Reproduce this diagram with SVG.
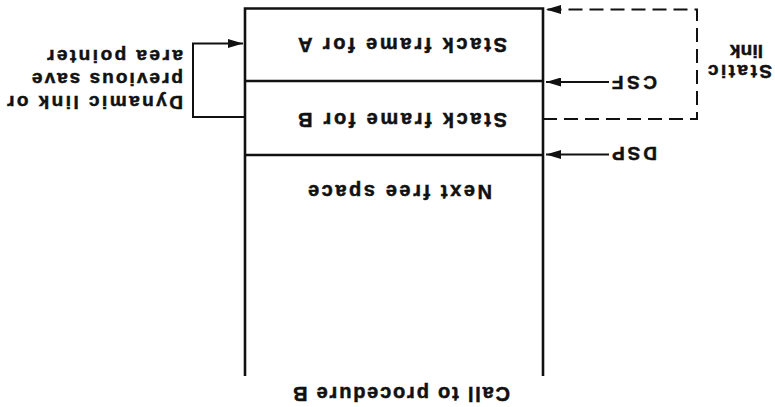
<svg xmlns="http://www.w3.org/2000/svg" width="775" height="407" viewBox="0 0 775 407">
  <style>
    .t { font-family: "Liberation Sans", Arial, sans-serif; font-weight: bold; font-size: 20px; fill: #111; stroke: #111; stroke-width: 0.5; }
    .s { font-size: 19px; }
    .box { fill: none; stroke: #111; stroke-width: 2.6; }
    .ln { fill: none; stroke: #111; stroke-width: 2; }
    .dash { fill: none; stroke: #111; stroke-width: 2; stroke-dasharray: 14 7; }
  </style>
  <defs>
    <marker id="arrow" markerUnits="userSpaceOnUse" markerWidth="15" markerHeight="9" refX="15" refY="4.5" orient="auto">
      <path d="M0,0 L15,4.5 L0,9 Z" fill="#111"/>
    </marker>
  </defs>
  <rect width="775" height="407" fill="#fff"/>
  <!-- whole drawing is printed turned half a revolution -->
  <g transform="rotate(180 387.5 203.5)">
    <g id="stack">
      <path class="box" d="M232,31 V398.5 H530 V31"/>
    </g>
    <g id="frameA">
      <line class="box" x1="232" y1="326" x2="530" y2="326"/>
      <text class="t" x="268" y="369" textLength="209" lengthAdjust="spacing">Stack frame for A</text>
    </g>
    <g id="frameB">
      <line class="box" x1="232" y1="252" x2="530" y2="252"/>
      <text class="t" x="268" y="294" textLength="209" lengthAdjust="spacing">Stack frame for B</text>
    </g>
    <g id="freeSpace">
      <text class="t" x="283" y="222" textLength="184" lengthAdjust="spacing">Next free space</text>
    </g>
    <g id="caption">
      <text class="t" x="265" y="20" textLength="217" lengthAdjust="spacing">Call to procedure B</text>
    </g>
    <g id="csf">
      <text class="t s" x="118" y="331" textLength="45" lengthAdjust="spacing">CSF</text>
    </g>
    <g id="dsp">
      <text class="t s" x="118" y="260" textLength="45" lengthAdjust="spacing">DSP</text>
    </g>
    <g id="staticLink">
      <text class="t s" x="3" y="342" textLength="64" lengthAdjust="spacing">Static</text>
      <text class="t s" x="12" y="362" textLength="33" lengthAdjust="spacing">link</text>
    </g>
    <g id="dynamicLink">
      <text class="t s" x="592" y="311" textLength="176" lengthAdjust="spacing">Dynamic link or</text>
      <text class="t s" x="592" y="334" textLength="151" lengthAdjust="spacing">previous save</text>
      <text class="t s" x="592" y="357" textLength="136" lengthAdjust="spacing">area pointer</text>
    </g>
    <g id="connectors">
      <path class="ln" d="M530,290 H582 V363.5 H532" marker-end="url(#arrow)"/>
      <line class="ln" x1="166" y1="325" x2="229" y2="325" marker-end="url(#arrow)"/>
      <line class="ln" x1="166" y1="252.5" x2="229" y2="252.5" marker-end="url(#arrow)"/>
      <path class="dash" d="M232,288 H78 V397.5 H229" marker-end="url(#arrow)"/>
    </g>
  </g>
</svg>
